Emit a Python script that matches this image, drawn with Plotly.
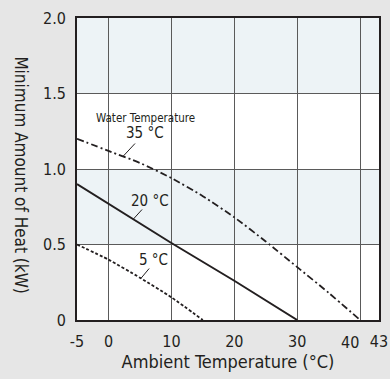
import plotly.graph_objects as go

# Data
ambient_20 = [-5, 0, 10, 20, 30]
heat_20 = [0.90, 0.77, 0.51, 0.26, 0.0]

ambient_5 = [-5, 0, 5, 10, 15]
heat_5 = [0.50, 0.40, 0.28, 0.15, 0.0]

ambient_35 = [-5, 0, 5, 10, 15, 20, 25, 30, 35, 40]
heat_35 = [1.20, 1.12, 1.04, 0.94, 0.82, 0.68, 0.52, 0.35, 0.18, 0.0]

x_tickvals = [-5, 0, 10, 20, 30, 40, 43]
x_ticktext = ["-5", "0", "10", "20", "30", "", "43"]
y_tickvals = [0, 0.5, 1.0, 1.5, 2.0]
y_ticktext = ["0", "0.5", "1.0", "1.5", "2.0"]

FONT = "Liberation Sans Narrow, DejaVu Sans Condensed, Liberation Sans, Arial, sans-serif"
INK = "#231f20"

fig = go.Figure()
fig.add_trace(go.Scatter(x=ambient_35, y=heat_35, mode="lines",
                         line=dict(color=INK, width=1.8, dash="7px,3px,2px,3px", shape="spline", smoothing=0.6),
                         hoverinfo="skip"))
fig.add_trace(go.Scatter(x=ambient_20, y=heat_20, mode="lines",
                         line=dict(color=INK, width=2), hoverinfo="skip"))
fig.add_trace(go.Scatter(x=ambient_5, y=heat_5, mode="lines",
                         line=dict(color=INK, width=1.8, dash="3px,2px", shape="spline", smoothing=0.6),
                         hoverinfo="skip"))

# shaded bands
for y0, y1 in [(0.5, 1.0), (1.5, 2.0)]:
    fig.add_shape(type="rect", xref="x", yref="y", x0=-5, x1=43, y0=y0, y1=y1,
                  fillcolor="#edf3f6", line=dict(width=0), layer="below")

def px2x(px):
    return -5 + (px - 76.5) / 6.3

def px2y(py):
    return (320 - py) / 151.0

# the "40" tick label, nudged left of its gridline so it clears "43"
fig.add_annotation(x=40, y=0, xref="x", yref="y", text="40", showarrow=False,
                   xanchor="right", yanchor="top", xshift=1, yshift=-11,
                   font=dict(family=FONT, size=16, color=INK))

# labels
fig.add_annotation(x=px2x(145), y=px2y(118), text="Water Temperature", showarrow=False,
                   font=dict(family=FONT, size=11.5, color=INK))
labels = [("35 °C", 145, 133, 136, 142, 122, 157),
          ("20 °C", 150, 201, 143, 208, 133, 219),
          ("5 °C", 153, 260, 150, 267, 140, 279)]
for txt, cx, cy, lx0, ly0, lx1, ly1 in labels:
    fig.add_annotation(x=px2x(cx), y=px2y(cy), text=txt, showarrow=False,
                       font=dict(family=FONT, size=15, color=INK))
    fig.add_annotation(x=px2x(lx1), y=px2y(ly1), ax=px2x(lx0), ay=px2y(ly0),
                       axref="x", ayref="y", text="", showarrow=True, arrowhead=0,
                       arrowwidth=1, arrowcolor=INK, standoff=0, startstandoff=0)

# vertical y title reading top-to-bottom
fig.add_annotation(xref="paper", yref="paper", x=(20 - 76.5) / 302.5, y=(320 - 175) / 302,
                   xanchor="center", yanchor="middle",
                   text="Minimum Amount of Heat (kW)", textangle=90, showarrow=False,
                   font=dict(family=FONT, size=17, color=INK))

fig.update_layout(
    width=390, height=379,
    margin=dict(l=76.5, r=11, t=18, b=59, autoexpand=False),
    paper_bgcolor="#e6e6e6", plot_bgcolor="white",
    showlegend=False,
    font=dict(family=FONT, size=17, color=INK),
    xaxis=dict(range=[-5, 43], tickvals=x_tickvals, ticktext=x_ticktext, tickangle=0,
               automargin=False,
               showgrid=True, gridcolor="#5a5a5a", gridwidth=1.3,
               showline=True, linecolor=INK, linewidth=1.6, mirror=True,
               zeroline=False, ticks="outside", ticklen=6, tickcolor="rgba(0,0,0,0)",
               tickfont=dict(family=FONT, size=16, color=INK),
               title=dict(text="Ambient Temperature (°C)", standoff=4,
                          font=dict(family=FONT, size=18, color=INK))),
    yaxis=dict(range=[0, 2.0], tickvals=y_tickvals, ticktext=y_ticktext,
               automargin=False,
               showgrid=True, gridcolor="#5a5a5a", gridwidth=1.3,
               showline=True, linecolor=INK, linewidth=1.6, mirror=True,
               zeroline=False, ticks="outside", ticklen=6, tickcolor="rgba(0,0,0,0)",
               tickfont=dict(family=FONT, size=16, color=INK)),
)

fig.write_html("out.html")
